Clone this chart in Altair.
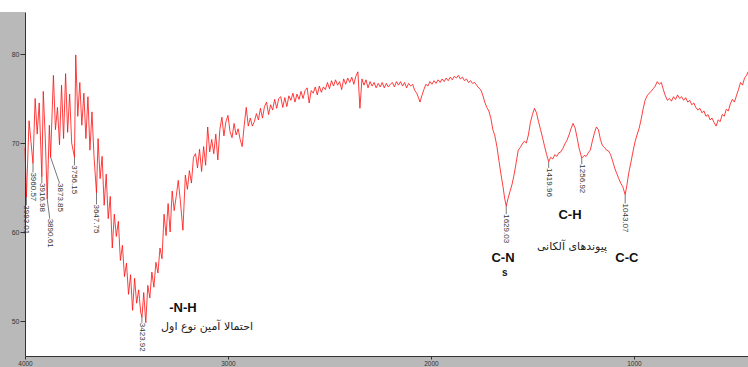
import altair as alt
import pandas as pd

# --- FTIR transmittance spectrum (wavenumber in cm-1, transmittance in %) ---

# 4000-3650: noisy high-frequency region
wn_a = [4000, 3993.01, 3980, 3970, 3960.57, 3950, 3940, 3930, 3916.98, 3910,
        3900, 3890.61, 3880, 3873.85, 3860, 3850, 3840, 3830, 3820, 3810,
        3800, 3790, 3780, 3770, 3756.15, 3750, 3740, 3730, 3720, 3710,
        3700, 3690, 3680, 3670, 3660, 3647.75]
t_a = [69.5, 63.9, 72.5, 70.0, 67.7, 75.0, 71.0, 74.5, 66.2, 75.8,
       70.5, 63.7, 72.0, 68.4, 77.6, 71.5, 74.0, 69.8, 76.5, 70.5,
       77.8, 71.2, 75.5, 70.0, 68.4, 79.9, 73.0, 76.8, 72.0, 75.6,
       70.5, 75.2, 69.2, 73.5, 68.5, 64.4]

# 3640-3170: broad N-H band
wn_b = [3640, 3630, 3620, 3610, 3600, 3590, 3580, 3570, 3560, 3550,
        3540, 3530, 3520, 3510, 3500, 3490, 3480, 3470, 3460, 3450,
        3440, 3430, 3423.92, 3415, 3405, 3395, 3385, 3375, 3365, 3355,
        3345, 3335, 3325, 3315, 3305, 3295, 3285, 3275, 3265, 3255,
        3245, 3235, 3222, 3210, 3200, 3190, 3180, 3170]
t_b = [70.5, 66.0, 68.5, 63.0, 66.5, 61.5, 64.0, 58.2, 62.0, 59.5,
       61.2, 56.8, 58.5, 55.0, 56.5, 53.0, 55.2, 51.2, 54.8, 52.0,
       53.5, 51.0, 50.4, 53.2, 49.8, 54.0, 52.6, 55.5, 53.8, 56.6,
       55.4, 58.2, 57.0, 62.0, 59.6, 63.2, 60.0, 64.6, 62.4, 64.0,
       65.8, 63.6, 60.2, 66.4, 64.8, 66.9, 65.5, 68.4]

# 3160-2200: rising plateau
wn_c = list(range(3160, 2190, -10))
t_c = [68.8, 67.2, 69.3, 66.8, 69.6, 67.5, 71.8, 69.0, 70.4, 68.8,
       71.0, 68.1, 71.5, 72.9, 70.8, 72.4, 73.1, 71.3, 70.6, 72.2,
       70.9, 71.6, 70.4, 69.6, 72.0, 74.0, 71.9, 72.8, 71.9, 72.4,
       73.3, 72.6, 73.9, 72.8, 74.1, 74.6, 73.2, 74.3, 73.7, 74.9,
       73.9, 75.0, 75.2, 74.0, 75.1, 74.1, 75.3, 74.8, 75.6, 74.6,
       75.5, 74.9, 75.8, 75.0, 75.9, 76.2, 74.5, 75.9, 75.6, 76.3,
       75.4, 76.4, 75.7, 76.3, 76.0, 76.8, 76.1, 77.0, 76.4, 77.1,
       76.5, 76.9, 76.0, 77.2, 76.6, 77.3, 76.8,
       77.4, 76.6, 77.5, 78.0, 73.9, 77.2, 76.5, 77.1, 76.2, 76.9,
       76.4, 76.8, 76.2, 76.7, 76.3, 76.8, 76.2, 76.7, 76.3, 76.6]

# 2190-1430: C-N region
wn_d = [2190, 2180, 2170, 2160, 2150, 2140, 2130, 2120, 2110, 2100,
        2090, 2080, 2070, 2060, 2054] + list(range(2045, 1640, -10)) + \
       [1637, 1629.03] + list(range(1620, 1420, -10))
t_d = [76.8, 76.3, 76.9, 76.5, 76.9, 76.4, 76.8, 76.2, 76.7, 76.4,
       76.6, 75.9, 75.6, 75.0, 74.6,
       75.3, 76.0, 76.6, 76.4, 76.9, 76.6, 77.0, 76.7, 77.1, 76.8,
       77.2, 76.9, 77.3, 77.0, 77.4, 77.1, 77.5, 77.3, 77.6, 77.2,
       77.4, 77.0, 77.2, 76.8, 77.0, 76.7, 76.8, 76.5, 76.2, 76.0,
       75.4, 74.6, 74.0, 73.6, 72.8, 71.5, 70.8, 69.6, 68.0, 66.5,
       65.1,
       63.8, 62.9,
       63.8, 64.6, 65.4, 66.5, 67.8, 69.2, 69.5, 69.9, 70.2, 70.0,
       70.9, 72.3, 73.2, 73.9, 73.4, 72.4, 71.5, 70.6, 69.6, 68.7]

# 1420-438: fingerprint region
wn_e = [1419.96] + list(range(1410, 1260, -10)) + [1256.92] + \
       list(range(1245, 1050, -10)) + [1043.07] + \
       list(range(1035, 440, -10)) + [438]
t_e = [67.9,
       68.4, 68.2, 68.7, 68.5, 68.9, 69.0, 69.4, 69.9, 70.3, 70.9,
       71.6, 72.2, 71.7, 70.6, 69.4,
       68.3,
       68.6, 68.5, 68.9, 69.2, 70.2, 71.1, 71.8, 71.5, 70.4, 69.7,
       69.5, 69.2, 69.1, 68.7, 68.0, 67.2, 66.6, 66.0, 65.5, 65.1,
       64.2,
       65.2, 66.7, 67.8, 69.0, 70.1, 70.9, 71.6, 72.6, 73.8, 74.8,
       75.3, 75.6, 75.8, 76.1, 76.4, 76.9, 76.6, 76.8, 76.0, 75.3,
       74.8, 75.0, 74.7, 75.2, 74.9, 75.4, 75.0, 75.2, 74.8, 75.1,
       74.6, 74.8, 74.3, 74.5, 74.0, 73.7, 73.9, 73.4, 73.6, 73.0,
       73.2, 72.6, 72.8, 72.3, 71.9, 72.6, 72.4, 73.2, 73.0, 73.8,
       73.6, 74.4, 74.9, 74.6, 75.3, 76.0, 76.8, 76.5, 77.3, 77.6,
       78.0]

# labelled band positions
peak_wn = [3993.01, 3960.57, 3916.98, 3890.61, 3873.85, 3756.15,
           3647.75, 3423.92, 1629.03, 1419.96, 1256.92, 1043.07]

wn = wn_a + wn_b + wn_c + wn_d + wn_e
tr = t_a + t_b + t_c + t_d + t_e
spectrum = pd.DataFrame({"wn": wn, "T": tr})
lookup = dict(zip(wn, tr))

# leader-line layout for the band labels: (text wavenumber, drop below the band in %T)
leader = {
    3993.01: (3993.01, 0.9), 3960.57: (3960.57, 1.0), 3916.98: (3916.98, 0.7),
    3890.61: (3878.0, 2.2), 3873.85: (3830.0, 2.9), 3756.15: (3756.15, 0.9),
    3647.75: (3647.75, 1.3), 3423.92: (3423.92, 0.6), 1629.03: (1629.03, 0.9),
    1419.96: (1419.96, 0.7), 1256.92: (1256.92, 0.7), 1043.07: (1043.07, 1.0),
}
peaks = pd.DataFrame({
    "wn": peak_wn,
    "T": [lookup[w] for w in peak_wn],
    "lx": [leader[w][0] for w in peak_wn],
    "ly": [lookup[w] - leader[w][1] for w in peak_wn],
    "label": [f"{w:.2f}" for w in peak_wn],
})

# group assignments written on the spectrum
notes = pd.DataFrame({
    "text": ["-N-H", "C-N", "s", "C-H", "C-C"],
    "x": [3222, 1645, 1636, 1315, 1035],
    "y": [51.5, 57.1, 55.4, 61.9, 57.1],
    "size": [13, 13, 10, 13, 13],
})
notes_fa = pd.DataFrame({
    "text": ["احتمالا آمین نوع اول", "پیوندهای آلکانی"],
    "x": [3103, 1305],
    "y": [49.3, 58.3],
})

W, H = 723, 344
xs = alt.Scale(domain=[4000, 438], nice=False, zero=False)
ys = alt.Scale(domain=[46.07, 84.72], nice=False, zero=False)

x_axis = alt.Axis(values=[4000, 3000, 2000, 1000], format="d", title=None,
                  labelFontSize=6.5, labelColor="#333", labelFont="Liberation Sans",
                  tickSize=3, tickColor="#333", domainColor="#333",
                  labelPadding=1, labelFlush=False, grid=False, zindex=1)
y_axis = alt.Axis(values=[50, 60, 70, 80], title=None,
                  labelFontSize=7, labelColor="#333", labelFont="Liberation Sans",
                  tickSize=5, tickColor="#333", domainColor="#333",
                  labelPadding=1, grid=False, zindex=1)

frame = pd.DataFrame({"k": [0]})
gray = "#b9b9b9"
left_strip = alt.Chart(frame).mark_rect(color=gray).encode(
    x=alt.value(-25), x2=alt.value(0), y=alt.value(0), y2=alt.value(H + 11))
bottom_strip = alt.Chart(frame).mark_rect(color=gray).encode(
    x=alt.value(-25), x2=alt.value(W), y=alt.value(H), y2=alt.value(H + 11))

line = alt.Chart(spectrum).mark_line(color="#ff1010", strokeWidth=0.9, opacity=0.9).encode(
    x=alt.X("wn:Q", scale=xs, axis=x_axis),
    y=alt.Y("T:Q", scale=ys, axis=y_axis),
)

ticks = alt.Chart(peaks).mark_rule(color="#555", strokeWidth=0.8).encode(
    x=alt.X("wn:Q", scale=xs), y=alt.Y("T:Q", scale=ys), x2="lx:Q", y2="ly:Q")

labels = alt.Chart(peaks).mark_text(
    angle=90, align="left", baseline="middle", fontSize=8, dx=0,
    color="#333", font="Liberation Sans").encode(
    x=alt.X("lx:Q", scale=xs), y=alt.Y("ly:Q", scale=ys), text="label:N")

bold_notes = alt.Chart(notes).mark_text(
    fontWeight="bold", font="Liberation Sans", color="#111",
    align="center", baseline="middle").encode(
    x=alt.X("x:Q", scale=xs), y=alt.Y("y:Q", scale=ys), text="text:N",
    size=alt.Size("size:Q", scale=None, legend=None))

fa_notes = alt.Chart(notes_fa).mark_text(
    font="DejaVu Sans", fontSize=11, color="#222",
    align="center", baseline="middle").encode(
    x=alt.X("x:Q", scale=xs), y=alt.Y("y:Q", scale=ys), text="text:N")

chart = alt.layer(
    left_strip, bottom_strip, line, ticks, labels, bold_notes, fa_notes
).properties(
    width=W, height=H,
    autosize=alt.AutoSizeParams(type="none"),
    padding={"left": 25, "top": 12, "right": 0, "bottom": 11},
    background="white",
).configure_view(stroke=None)

chart.save("out.html", embed_options={"renderer": "svg", "actions": False})
